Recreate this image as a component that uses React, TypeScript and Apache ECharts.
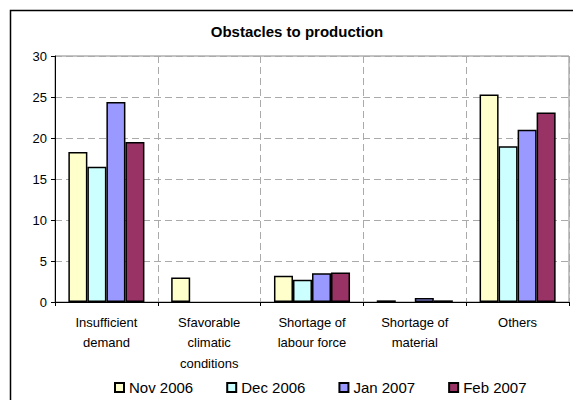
import React, { useEffect, useRef } from "react";
import * as echarts from "echarts";

const categories = [
  "Insufficient\ndemand",
  "Sfavorable\nclimatic\nconditions",
  "Shortage of\nlabour force",
  "Shortage of\nmaterial",
  "Others",
];
const nov2006 = [18.3, 3.0, 3.2, 0.2, 25.3];
const dec2006 = [16.5, 0, 2.7, 0, 19.0];
const jan2007 = [24.4, 0, 3.5, 0.5, 21.0];
const feb2007 = [19.5, 0, 3.6, 0.2, 23.1];
const seriesNames = ["Nov 2006", "Dec 2006", "Jan 2007", "Feb 2007"];
const seriesColors = ["#FFFFCC", "#CCFFFF", "#9999FF", "#993366"];
const titleText = "Obstacles to production";

const FONT = "Arial, 'Liberation Sans', sans-serif";

export default function App() {
  const ref = useRef<HTMLDivElement>(null);
  useEffect(() => {
    if (!ref.current) return;
    const chart = echarts.init(ref.current, undefined, { renderer: "svg" });
    const data = [nov2006, dec2006, jan2007, feb2007];
    chart.setOption({
      animation: false,
      backgroundColor: "#ffffff",
      textStyle: { fontFamily: FONT },
      graphic: [
        {
          type: "rect",
          shape: { x: 10.5, y: 10.5, width: 700, height: 500 },
          style: { fill: "none", stroke: "#000", lineWidth: 1.5 },
          silent: true,
        },
        {
          type: "text",
          x: 297,
          y: 31,
          style: {
            text: titleText,
            font: `bold 15px ${FONT}`,
            fill: "#000",
            align: "center",
            verticalAlign: "middle",
            textAlign: "center",
            textVerticalAlign: "middle",
          },
        },
      ],
      legend: {
        left: 114,
        top: 380,
        padding: 0,
        itemWidth: 9,
        itemHeight: 9,
        itemGap: 33,
        icon: "rect",
        textStyle: { fontSize: 15, color: "#000", fontFamily: FONT },
        data: seriesNames,
      },
      grid: {
        left: 55,
        right: 4,
        top: 56,
        bottom: 98,
        show: true,
        borderColor: "#888",
        borderWidth: 1,
        backgroundColor: "transparent",
      },
      xAxis: {
        type: "category",
        data: categories,
        axisLine: { lineStyle: { color: "#000", width: 1 } },
        axisTick: { show: true, length: 4, lineStyle: { color: "#000" } },
        splitLine: { show: true, lineStyle: { color: "#aaa", type: [7, 4], width: 1 } },
        axisLabel: {
          interval: 0,
          fontSize: 13,
          lineHeight: 20.5,
          color: "#000",
          margin: 10,
          fontFamily: FONT,
        },
      },
      yAxis: {
        type: "value",
        min: 0,
        max: 30,
        interval: 5,
        axisLine: { show: true, lineStyle: { color: "#000", width: 1 } },
        axisTick: { show: true, length: 4, lineStyle: { color: "#000" } },
        splitLine: { show: true, lineStyle: { color: "#aaa", type: [7, 4], width: 1 } },
        axisLabel: { fontSize: 13, color: "#000", margin: 8, fontFamily: FONT },
      },
      series: seriesNames.map((name, i) => ({
        name,
        type: "bar",
        data: data[i].map((v) =>
          v === 0 ? { value: v, itemStyle: { borderWidth: 0, opacity: 0 } } : v
        ),
        barGap: "0%",
        barCategoryGap: "26%",
        itemStyle: { color: seriesColors[i], borderColor: "#000", borderWidth: 1.5 },
      })),
    });
    return () => chart.dispose();
  }, []);
  return (
    <div style={{ position: "fixed", left: 0, top: 0, width: 573, height: 400 }}>
      <div ref={ref} style={{ width: 573, height: 400 }} />
    </div>
  );
}
